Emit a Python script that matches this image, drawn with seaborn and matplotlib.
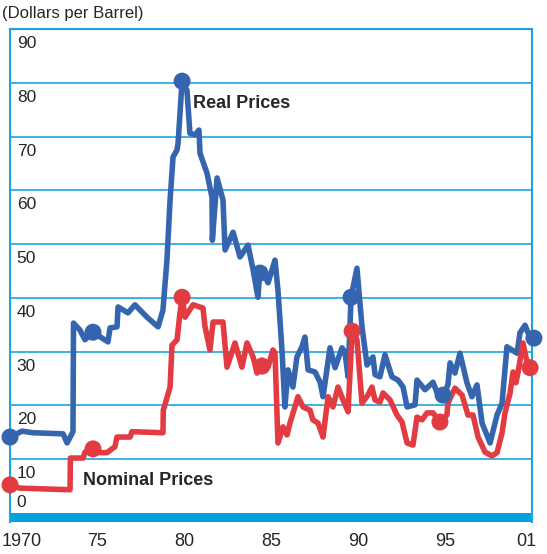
import pandas as pd
import matplotlib.pyplot as plt
import seaborn as sns

# Real prices (blue)
real_year = [1970.00, 1970.69, 1971.32, 1973.05, 1973.28, 1973.62, 1973.65, 1974.02, 1974.31, 1974.77,
             1975.63, 1975.75, 1976.15, 1976.21, 1976.78, 1977.18, 1977.87, 1978.51, 1978.79, 1979.02,
             1979.20, 1979.37, 1979.60, 1979.66, 1979.89, 1980.17, 1980.34, 1980.63, 1980.86, 1980.92,
             1981.32, 1981.61, 1981.63, 1981.90, 1982.24, 1982.36, 1982.82, 1983.22, 1983.68, 1983.97,
             1984.25, 1984.37, 1984.66, 1984.83, 1985.23, 1985.40, 1985.63, 1985.80, 1985.98, 1986.26,
             1986.49, 1986.78, 1986.95, 1987.13, 1987.53, 1987.82, 1987.99, 1988.39, 1988.68, 1989.08,
             1989.25, 1989.43, 1989.60, 1989.94, 1990.23, 1990.52, 1990.86, 1990.98, 1991.26, 1991.55,
             1991.95, 1992.30, 1992.59, 1992.82, 1993.28, 1993.39, 1993.85, 1994.31, 1994.60, 1994.89,
             1995.17, 1995.29, 1995.57, 1995.86, 1996.26, 1996.55, 1996.84, 1997.13, 1997.59, 1997.99,
             1998.28, 1998.56, 1999.14, 1999.31, 1999.60, 1999.77, 2000.11]
real_price = [14.1, 15.2, 14.9, 14.7, 13.0, 15.1, 35.3, 34.0, 32.2, 33.6,
              31.8, 34.4, 34.6, 38.3, 37.2, 38.7, 36.4, 34.6, 37.7, 47.0,
              58.2, 66.2, 67.5, 68.8, 80.3, 78.6, 70.6, 70.3, 71.2, 66.9,
              63.2, 58.7, 50.7, 62.3, 58.2, 48.9, 52.2, 47.6, 49.8, 45.2,
              40.1, 45.5, 43.9, 42.8, 47.0, 41.4, 30.3, 19.7, 26.6, 23.4,
              29.0, 30.9, 32.7, 26.6, 26.2, 24.3, 21.6, 30.7, 27.0, 30.7,
              29.9, 25.3, 40.1, 45.5, 34.6, 27.5, 29.0, 25.7, 25.3, 29.4,
              25.3, 24.7, 23.4, 19.7, 20.1, 24.7, 22.9, 24.3, 21.9, 21.9,
              23.8, 27.9, 26.0, 29.7, 24.2, 21.6, 23.8, 16.7, 13.0, 18.2,
              20.4, 30.9, 29.7, 33.5, 34.9, 33.5, 32.5]

# Nominal prices (red)
nom_year = [1970.00, 1970.57, 1973.45, 1973.47, 1974.20, 1974.31, 1974.77, 1975.17, 1975.57, 1976.03,
            1976.15, 1976.90, 1977.01, 1978.79, 1978.81, 1979.20, 1979.31, 1979.60, 1979.77, 1979.89,
            1980.06, 1980.52, 1981.09, 1981.21, 1981.49, 1981.67, 1982.24, 1982.47, 1982.93, 1983.33,
            1983.62, 1983.97, 1984.20, 1984.48, 1984.83, 1985.11, 1985.23, 1985.40, 1985.69, 1985.92,
            1986.09, 1986.55, 1986.84, 1987.24, 1987.41, 1987.70, 1987.99, 1988.28, 1988.56, 1988.85,
            1989.14, 1989.43, 1989.66, 1989.94, 1990.23, 1990.57, 1990.80, 1990.98, 1991.26, 1991.44,
            1991.84, 1992.24, 1992.53, 1992.82, 1993.16, 1993.39, 1993.68, 1993.97, 1994.31, 1994.71,
            1995.11, 1995.17, 1995.57, 1995.98, 1996.32, 1996.61, 1996.90, 1997.30, 1997.70, 1997.99,
            1998.28, 1998.45, 1998.74, 1998.91, 1999.08, 1999.20, 1999.48, 1999.71, 1999.89]
nom_price = [5.2, 4.6, 4.3, 10.2, 10.2, 11.3, 11.9, 11.2, 11.2, 12.3,
             14.1, 14.1, 15.1, 14.9, 19.1, 23.4, 31.2, 32.2, 37.2, 40.1,
             36.4, 38.7, 38.1, 34.6, 30.3, 35.5, 35.5, 27.1, 31.6, 27.1,
             31.6, 29.0, 26.0, 28.4, 27.1, 30.3, 29.7, 13.0, 16.0, 14.5,
             16.7, 21.6, 19.7, 19.1, 17.3, 16.7, 14.1, 21.6, 19.7, 23.4,
             21.0, 18.8, 33.8, 32.2, 20.4, 21.9, 23.4, 21.0, 20.6, 22.3,
             21.0, 18.2, 16.9, 13.0, 12.6, 17.8, 17.3, 18.6, 18.6, 16.9,
             18.2, 20.4, 23.2, 21.9, 18.2, 18.2, 14.1, 11.3, 10.6, 11.2,
             14.9, 18.6, 22.3, 26.2, 24.2, 26.2, 31.6, 28.1, 27.0]

# highlighted points every five years
real_dot_year = [1970.00, 1974.77, 1979.89, 1984.37, 1989.60, 1994.89, 2000.11]
real_dot_price = [14.1, 33.6, 80.3, 44.6, 40.1, 21.9, 32.5]
nom_dot_year = [1970.00, 1974.77, 1979.89, 1984.48, 1989.66, 1994.71, 1999.89]
nom_dot_price = [5.2, 11.9, 40.1, 27.3, 33.8, 16.9, 27.0]

y_ticks = [0, 10, 20, 30, 40, 50, 60, 70, 80, 90]
x_tick_pos = [1970.7, 1975, 1980, 1985, 1990, 1995, 1999.7]
x_tick_labels = ["1970", "75", "80", "85", "90", "95", "01"]

blue = "#3465AE"
red = "#E23B42"
cyan = "#1AA7E0"

sns.set_style("white")
plt.rcParams["font.family"] = ["Liberation Sans", "DejaVu Sans"]

real = pd.DataFrame({"year": real_year, "price": real_price})
nom = pd.DataFrame({"year": nom_year, "price": nom_price})

fig = plt.figure(figsize=(5.47, 5.54), dpi=100)
ax = fig.add_axes([10 / 547, 32 / 554, 522 / 547, 493 / 554])

for v in y_ticks[1:-1]:
    ax.axhline(v, color=cyan, lw=1.2, zorder=1)
ax.axhspan(-1.7, 0, color="#00A3E0", zorder=1, lw=0)

sns.lineplot(data=real, x="year", y="price", sort=False, estimator=None,
             color=blue, lw=4, ax=ax, zorder=3, clip_on=False)
sns.lineplot(data=nom, x="year", y="price", sort=False, estimator=None,
             color=red, lw=4, ax=ax, zorder=4, clip_on=False)
sns.scatterplot(x=real_dot_year, y=real_dot_price, color=blue, s=150,
                edgecolor="none", ax=ax, zorder=5, clip_on=False)
sns.scatterplot(x=nom_dot_year, y=nom_dot_price, color=red, s=150,
                edgecolor="none", ax=ax, zorder=6, clip_on=False)

ax.set_xlim(1970, 2000)
ax.set_ylim(-1.7, 90)
ax.set_xlabel("")
ax.set_ylabel("")
ax.set_yticks([])
ax.set_xticks(x_tick_pos)
ax.set_xticklabels(x_tick_labels, fontsize=13)
ax.tick_params(axis="x", length=0, pad=8)

for v in y_ticks:
    ty = 2.0 if v == 0 else v - 2.7
    ax.text(0.013, ty, str(v), transform=ax.get_yaxis_transform(),
            fontsize=12.5, va="center", ha="left", zorder=2)

for side in ["left", "top", "right"]:
    ax.spines[side].set_color(cyan)
    ax.spines[side].set_linewidth(1.5)
ax.spines["bottom"].set_visible(False)

ax.text(1980.52, 76.2, "Real Prices", fontsize=13, fontweight="bold",
        va="center", ha="left", zorder=7)
ax.text(1974.2, 6.1, "Nominal Prices", fontsize=13, fontweight="bold",
        va="center", ha="left", zorder=7)

fig.text(0.004, 0.975, "(Dollars per Barrel)", fontsize=12, va="center", ha="left")

plt.savefig("out.png", dpi=100)
